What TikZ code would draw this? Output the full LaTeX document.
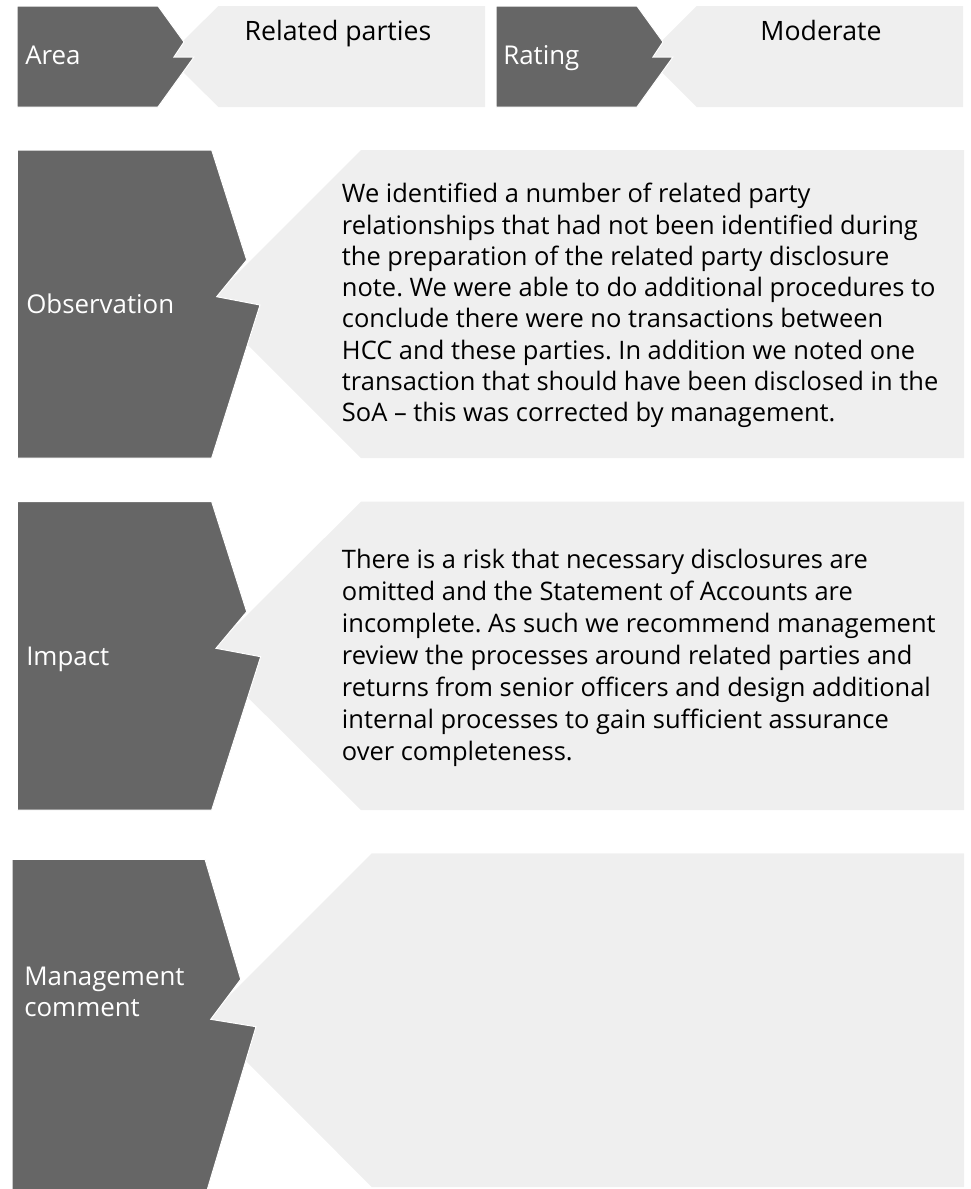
\documentclass[tikz,border=0pt]{standalone}
\usepackage{fontspec}
\setmainfont{Open Sans}
\definecolor{darkbox}{HTML}{666666}
\definecolor{lightbox}{HTML}{EFEFEF}
\frenchspacing
\begin{document}
\frenchspacing
\begin{tikzpicture}[x=0.75pt,y=-0.75pt,
  darkshape/.style={fill=darkbox, draw=white, line width=0.75pt, line join=miter},
  lightshape/.style={fill=lightbox},
  lbl/.style={anchor=base west, inner sep=0pt, text=white, font=\fontsize{19.4}{23.3}\selectfont},
  hdr/.style={anchor=base, inner sep=0pt, text=black, font=\fontsize{20}{24}\selectfont},
  body/.style={anchor=base west, inner sep=0pt, text=black}]
\useasboundingbox (0,0) rectangle (971,1189);

% Header: Area / Related parties
\fill[lightshape] (218.3,6) -- (485,6) -- (485,107) -- (218.3,107) -- (167.6,56.5) -- cycle;
\filldraw[darkshape] (17,6) -- (158,6) -- (184,42) -- (174,57) -- (194,57) -- (158,107) -- (17,107) -- cycle;
\node[lbl] (area) at (25,64) {Area};
\node[hdr] (areaval) at (338,40.7) {Related parties};

% Header: Rating / Moderate
\fill[lightshape] (696.7,6) -- (963,6) -- (963,107) -- (696.7,107) -- (646,56.5) -- cycle;
\filldraw[darkshape] (496,6) -- (637,6) -- (663,42) -- (653,57) -- (673,57) -- (637,107) -- (496,107) -- cycle;
\node[lbl] (rating) at (503,64) {Rating};
\node[hdr] (ratingval) at (821,40.7) {Moderate};

% Observation
\fill[lightshape] (361,150) -- (964,150) -- (964,458) -- (361,458) -- (207,304) -- cycle;
\filldraw[darkshape] (17.3,150) -- (211.7,150) -- (246.7,260) -- (216.7,296.7) -- (260,305) -- (211.7,458) -- (17.3,458) -- cycle;
\node[lbl] (obs) at (26,313.3) {Observation};
\node[body] (obstext) at (341.7,202.7) {\fontsize{19.1}{23.48}\selectfont\frenchspacing\begin{tabular}[t]{@{}l@{}}
We identified a number of related party\\
relationships that had not been identified during\\
the preparation of the related party disclosure\\
note. We were able to do additional procedures to\\
conclude there were no transactions between\\
HCC and these parties. In addition we noted one\\
transaction that should have been disclosed in the\\
SoA – this was corrected by management.
\end{tabular}};

% Impact
\fill[lightshape] (361,501.7) -- (964,501.7) -- (964,810) -- (361,810) -- (206,655.8) -- cycle;
\filldraw[darkshape] (17.3,501.7) -- (211.7,501.7) -- (246.7,611.7) -- (216,648.3) -- (260.7,656.7) -- (211.7,810) -- (17.3,810) -- cycle;
\node[lbl] (imp) at (26,665) {Impact};
\node[body] (imptext) at (341.7,568.3) {\fontsize{19.1}{24}\selectfont\frenchspacing\begin{tabular}[t]{@{}l@{}}
There is a risk that necessary disclosures are\\
omitted and the Statement of Accounts are\\
incomplete. As such we recommend management\\
review the processes around related parties and\\
returns from senior officers and design additional\\
internal processes to gain sufficient assurance\\
over completeness.
\end{tabular}};

% Management comment
\fill[lightshape] (371.7,853.3) -- (964,853.3) -- (964,1187) -- (371.7,1187) -- (205,1020) -- cycle;
\filldraw[darkshape] (12,859.3) -- (205,859.3) -- (240.7,979.3) -- (210.7,1019.3) -- (256,1026.7) -- (207.3,1189.5) -- (12,1189.5) -- cycle;
\node[lbl] (mgmt) at (24,985.7) {\begin{tabular}[t]{@{}l@{}}Management\\comment\end{tabular}};
\end{tikzpicture}
\end{document}
